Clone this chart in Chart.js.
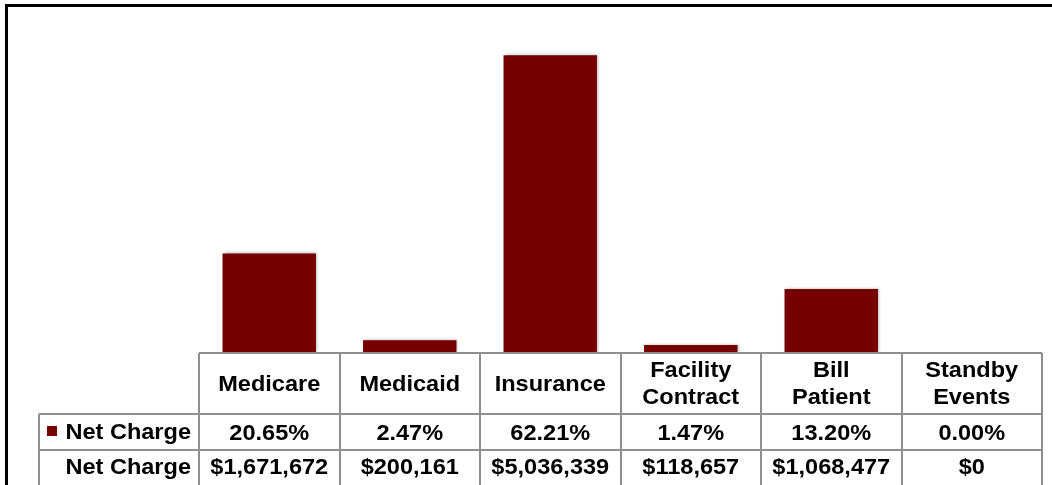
<!DOCTYPE html>
<html>
<head>
<meta charset="utf-8">
<script src="https://cdn.jsdelivr.net/npm/chart.js@4/dist/chart.umd.min.js"></script>
<style>
  html, body { margin: 0; padding: 0; background: #fff; }
  #wrap { position: relative; width: 1052px; height: 485px; overflow: hidden; }
</style>
</head>
<body>
<div id="wrap"><canvas id="payerChart" width="1052" height="485"></canvas></div>
<script>
// payer mix: share of net charge and dollar totals
const categories = [['Medicare'], ['Medicaid'], ['Insurance'], ['Facility', 'Contract'], ['Bill', 'Patient'], ['Standby', 'Events']];
const sharePct = [20.65, 2.47, 62.21, 1.47, 13.20, 0.00];
const netCharge = [1671672, 200161, 5036339, 118657, 1068477, 0];
const seriesName = 'Net Charge';

const BAR_COLOR = '#760000';
const GRID = '#8f8f8f';
const FONT = 'bold 22px "Liberation Sans", Arial, sans-serif';
const STRETCH = 1.07;

const fmtPct = v => v.toFixed(2) + '%';
const fmtMoney = v => '$' + v.toLocaleString('en-US');

function txt(ctx, s, x, y, align) {
  ctx.save();
  ctx.translate(x, y);
  ctx.scale(STRETCH, 1);
  ctx.textAlign = align;
  ctx.fillText(s, 0, 0);
  ctx.restore();
}

// soft drop shadow behind the bars
const barShadow = {
  id: 'barShadow',
  beforeDatasetsDraw(chart) {
    const ctx = chart.ctx;
    ctx.save();
    ctx.shadowColor = 'rgba(0,0,0,0.35)';
    ctx.shadowBlur = 3;
    ctx.shadowOffsetX = 1;
    ctx.shadowOffsetY = 0;
  },
  afterDatasetsDraw(chart) { chart.ctx.restore(); }
};

// data table under the plot, columns follow the x scale
const dataTable = {
  id: 'dataTable',
  afterDraw(chart) {
    const ctx = chart.ctx;
    const xs = chart.scales.x;
    const area = chart.chartArea;
    const colW = (area.right - area.left) / categories.length;
    const top = area.bottom + 1, row1 = 414, row2 = 450, bottom = 490;
    const labelLeft = 39;

    ctx.save();
    ctx.strokeStyle = GRID;
    ctx.lineWidth = 2;
    ctx.beginPath();
    ctx.moveTo(area.left, top); ctx.lineTo(area.right, top);
    ctx.moveTo(labelLeft, row1); ctx.lineTo(area.right, row1);
    ctx.moveTo(labelLeft, row2); ctx.lineTo(area.right, row2);
    ctx.moveTo(labelLeft, row1); ctx.lineTo(labelLeft, bottom);
    for (let i = 0; i <= categories.length; i++) {
      const x = Math.round(area.left + i * colW);
      ctx.moveTo(x, top); ctx.lineTo(x, bottom);
    }
    ctx.stroke();

    ctx.fillStyle = '#000';
    ctx.font = FONT;
    ctx.textBaseline = 'alphabetic';
    categories.forEach((lines, i) => {
      const cx = xs.getPixelForValue(i);
      if (lines.length === 1) {
        txt(ctx, lines[0], cx, 391, 'center');
      } else {
        txt(ctx, lines[0], cx, 377, 'center');
        txt(ctx, lines[1], cx, 404, 'center');
      }
      txt(ctx, fmtPct(sharePct[i]), cx, 439.5, 'center');
      txt(ctx, fmtMoney(netCharge[i]), cx, 473.5, 'center');
    });

    // row labels, first one with the series key
    txt(ctx, seriesName, 191, 439, 'right');
    txt(ctx, seriesName, 191, 473.5, 'right');
    ctx.fillStyle = BAR_COLOR;
    ctx.fillRect(47, 426, 10, 10);

    // frame
    ctx.fillStyle = '#000';
    ctx.fillRect(5, 4, 1047, 3);
    ctx.fillRect(5, 4, 3, 481);
    ctx.restore();
  }
};

new Chart(document.getElementById('payerChart'), {
  type: 'bar',
  data: {
    labels: categories.map(c => c.join(' ')),
    datasets: [{
      label: seriesName,
      data: sharePct,
      backgroundColor: BAR_COLOR,
      borderWidth: 0,
      barPercentage: 0.665,
      categoryPercentage: 1
    }]
  },
  options: {
    responsive: false,
    devicePixelRatio: 1,
    animation: false,
    layout: { padding: { left: 199, right: 10, top: 18, bottom: 133 } },
    plugins: { legend: { display: false }, tooltip: { enabled: false } },
    scales: {
      x: { display: false },
      y: { display: false, min: 0, max: 70 }
    }
  },
  plugins: [barShadow, dataTable]
});
</script>
</body>
</html>
